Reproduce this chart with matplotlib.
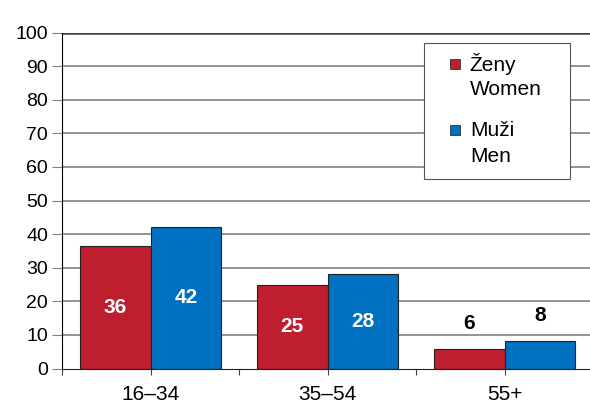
import matplotlib.pyplot as plt
import numpy as np
from matplotlib.patches import Rectangle

plt.rcParams['font.family'] = ['Liberation Sans', 'DejaVu Sans']

# data
categories = ['16–34', '35–54', '55+']
women = [36.5, 25.0, 5.7]
men = [42.1, 28.0, 8.1]
women_labels = ['36', '25', '6']
men_labels = ['42', '28', '8']
legend_women = ['Ženy', 'Women']
legend_men = ['Muži', 'Men']

red = '#BE1E2D'
blue = '#0070C0'
fs = 15

fig = plt.figure(figsize=(5.9, 4.03), dpi=100)
ax = fig.add_axes([62 / 590, 34.5 / 403, 531 / 590, 336 / 403])

x = np.arange(len(categories))
w = 0.4
ax.bar(x - w / 2, women, width=w, color=red, edgecolor='#222222', linewidth=0.8, zorder=3)
ax.bar(x + w / 2, men, width=w, color=blue, edgecolor='#222222', linewidth=0.8, zorder=3)

# bar labels: inside if tall enough, otherwise above
for xi, v, lab in zip(x - w / 2, women, women_labels):
    if v > 15:
        ax.text(xi, v / 2, lab, ha='center', va='center', color='white', fontsize=fs, fontweight='bold', zorder=4)
    else:
        ax.text(xi, v + 7.8, lab, ha='center', va='center', color='black', fontsize=fs, fontweight='bold', zorder=4)
for xi, v, lab in zip(x + w / 2, men, men_labels):
    if v > 15:
        ax.text(xi, v / 2, lab, ha='center', va='center', color='white', fontsize=fs, fontweight='bold', zorder=4)
    else:
        ax.text(xi, v + 7.8, lab, ha='center', va='center', color='black', fontsize=fs, fontweight='bold', zorder=4)

ax.set_xlim(-0.5, len(categories) - 0.5)
ax.set_ylim(0, 100)
ax.set_yticks(range(0, 101, 10))
ax.tick_params(axis='y', labelsize=14, length=7, color='#808080', pad=3)

# ticks at group edges and between bars, labels at centers
ax.set_xticks(np.concatenate([x - 0.5, x]))
ax.set_xticklabels([''] * len(x) + categories)
ax.tick_params(axis='x', labelsize=fs, length=4, color='#404040', pad=8)

for yv in range(10, 100, 10):
    ax.axhline(yv, color='#808080', linewidth=1.2, zorder=1)
ax.axhline(100, color='#404040', linewidth=1.8, zorder=1)

for s in ['top', 'right']:
    ax.spines[s].set_visible(False)
ax.spines['left'].set_color('black')
ax.spines['bottom'].set_color('#222222')
ax.spines['bottom'].set_zorder(5)

# legend drawn by hand
ax.add_patch(Rectangle((0.682, 0.564), 0.275, 0.406, transform=ax.transAxes,
                       facecolor='white', edgecolor='#555555', linewidth=0.8, zorder=6))
ax.plot([0.740], [0.905], marker='s', markersize=7.5, color=red, markeredgecolor='#333333',
        markeredgewidth=0.6, transform=ax.transAxes, zorder=7)
ax.plot([0.740], [0.709], marker='s', markersize=7.5, color=blue, markeredgecolor='#333333',
        markeredgewidth=0.6, transform=ax.transAxes, zorder=7)
ax.text(0.768, 0.905, legend_women[0], transform=ax.transAxes, fontsize=fs, va='center', zorder=7)
ax.text(0.768, 0.830, legend_women[1], transform=ax.transAxes, fontsize=fs, va='center', zorder=7)
ax.text(0.768, 0.709, legend_men[0], transform=ax.transAxes, fontsize=fs, va='center', zorder=7)
ax.text(0.768, 0.632, legend_men[1], transform=ax.transAxes, fontsize=fs, va='center', zorder=7)

fig.savefig('out.png', dpi=100)
